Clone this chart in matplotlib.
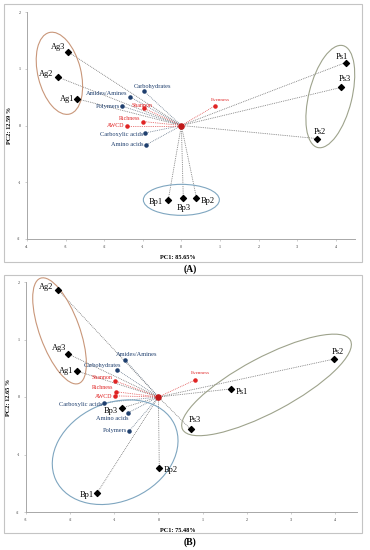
import matplotlib.pyplot as plt
from matplotlib.patches import Ellipse, Rectangle
from matplotlib.transforms import ScaledTranslation

plt.rcParams['font.family'] = ['Liberation Serif', 'DejaVu Serif']
plt.rcParams['axes.unicode_minus'] = False

# ---- panel A data ----
a_samples = ["Ag1", "Ag2", "Ag3", "Ps1", "Ps2", "Ps3", "Bp1", "Bp2", "Bp3"]
a_sx = [-2.70, -3.19, -2.94, 4.26, 3.51, 4.13, -0.34, 0.39, 0.05]
a_sy = [0.47, 0.85, 1.30, 1.11, -0.23, 0.67, -1.31, -1.27, -1.27]
a_vars = ["Carbohydrates", "Amides/Amines", "Polymers", "Carboxylic acids", "Amino acids",
          "Shannon", "Richness", "AWCD", "Evenness"]
a_vx = [-0.96, -1.32, -1.53, -0.93, -0.91, -0.96, -0.99, -1.40, 0.88]
a_vy = [0.60, 0.50, 0.34, -0.13, -0.34, 0.30, 0.07, 0.00, 0.35]

# ---- panel B data ----
b_samples = ["Ag1", "Ag2", "Ag3", "Ps1", "Ps2", "Ps3", "Bp1", "Bp2", "Bp3"]
b_sx = [-1.84, -2.27, -2.05, 1.64, 3.98, 0.73, -1.39, 0.02, -0.82]
b_sy = [0.45, 1.86, 0.75, 0.14, 0.66, -0.56, -1.67, -1.23, -0.19]
b_vars = ["Carbohydrates", "Amides/Amines", "Polymers", "Carboxylic acids", "Amino acids",
          "Shannon", "Richness", "AWCD", "Evenness"]
b_vx = [-0.93, -0.75, -0.66, -1.23, -0.70, -0.98, -0.95, -0.98, 0.84]
b_vy = [0.47, 0.64, -0.59, -0.10, -0.28, 0.28, 0.09, 0.02, 0.30]

red_vars = {"Shannon", "Richness", "AWCD", "Evenness"}

BLUE = "#1f3f6e"
RED = "#e02424"

# label offsets in pixels: (dx, dy, ha)
a_off = {
    "Ag1": (-3, 0, "right"), "Ag2": (-5, 3, "right"), "Ag3": (-3, 5, "right"),
    "Ps1": (-4, 6, "center"), "Ps2": (3, 7, "center"), "Ps3": (4, 8, "center"),
    "Bp1": (-5, -2, "right"), "Bp2": (4, -3, "left"), "Bp3": (0, -10, "center"),
    "Carbohydrates": (8, 5, "center"), "Amides/Amines": (-3, 4, "right"),
    "Polymers": (-2, 0, "right"), "Carboxylic acids": (-2, -2, "right"),
    "Amino acids": (-3, 0, "right"), "Shannon": (-2, 3, "center"),
    "Richness": (-3, 3, "right"), "AWCD": (-3, 0, "right"), "Evenness": (5, 6, "center"),
}
b_off = {
    "Ag1": (-4, 0, "right"), "Ag2": (-5, 3, "right"), "Ag3": (-2, 6, "right"),
    "Ps1": (5, -3, "left"), "Ps2": (4, 7, "center"), "Ps3": (-2, 9, "left"),
    "Bp1": (-3, -2, "right"), "Bp2": (4, -2, "left"), "Bp3": (-4, -3, "right"),
    "Carbohydrates": (-15, 4, "center"), "Amides/Amines": (11, 6, "center"),
    "Polymers": (-2, 0, "right"), "Carboxylic acids": (-2, -2, "right"),
    "Amino acids": (-15, -5, "center"), "Shannon": (-3, 3, "right"),
    "Richness": (-3, 4, "right"), "AWCD": (-3, -1, "right"), "Evenness": (5, 7, "center"),
}


def group_ellipse(ax, cx, cy, w, h, ang, color):
    # ellipse size given in inches so it is independent of axis scaling
    tr = ax.figure.dpi_scale_trans + ScaledTranslation(cx, cy, ax.transData)
    ax.add_patch(Ellipse((0, 0), w, h, angle=ang, transform=tr, fill=False,
                         ec=color, lw=0.8, clip_on=False))


def draw_panel(ax, samples, sx, sy, names, vx, vy, off, xlim, xlabel, ylabel):
    for x, y in zip(sx, sy):
        ax.plot([0, x], [0, y], ls=(0, (1, 1.2)), lw=0.6, color="#707070", zorder=1)
    for n, x, y in zip(names, vx, vy):
        c = "#e05050" if n in red_vars else "#6a7a8c"
        ax.plot([0, x], [0, y], ls=(0, (1, 1.2)), lw=0.6, color=c, zorder=1)
    ax.scatter(sx, sy, marker="D", s=9, color="black", zorder=3)
    for n, x, y in zip(names, vx, vy):
        red = n in red_vars
        ax.scatter([x], [y], marker="o", s=5, color=RED if red else BLUE, zorder=3)
    ax.scatter([0], [0], marker="o", s=14, color="#c01818", zorder=4)

    for n, x, y in zip(samples, sx, sy):
        dx, dy, ha = off[n]
        ax.annotate(n, (x, y), xytext=(dx, dy), textcoords="offset pixels",
                    ha=ha, va="center", fontsize=6, color="black")
    for n, x, y in zip(names, vx, vy):
        dx, dy, ha = off[n]
        red = n in red_vars
        fs = 3.6 if n == "Evenness" else (4.2 if red else 4.6)
        ax.annotate(n, (x, y), xytext=(dx, dy), textcoords="offset pixels",
                    ha=ha, va="center", fontsize=fs, color=RED if red else BLUE)

    ax.set_xlim(*xlim)
    ax.set_ylim(-2, 2)
    ax.set_xticks(range(int(xlim[0]), 5))
    ax.set_yticks([-2, -1, 0, 1, 2])
    for s in ["top", "right"]:
        ax.spines[s].set_visible(False)
    for s in ["left", "bottom"]:
        ax.spines[s].set_color("#a8a8a8")
        ax.spines[s].set_linewidth(0.7)
    ax.tick_params(labelsize=3, length=1.5, width=0.4, color="#a8a8a8", pad=3,
                   labelcolor="#333333")
    ax.set_xlabel(xlabel, fontsize=4.5, fontweight="bold")
    ax.set_ylabel(ylabel, fontsize=4.5, fontweight="bold")
    ax.xaxis.set_label_coords(0.46, -0.07)
    ax.yaxis.set_label_coords(-0.046, 0.5)


fig = plt.figure(figsize=(3.7, 5.5), dpi=100)
W, H = 370, 550

axA = fig.add_axes([27 / W, 1 - 239 / H, 328 / W, 227 / H])
draw_panel(axA, a_samples, a_sx, a_sy, a_vars, a_vx, a_vy, a_off, (-4, 4.5),
           "PC1: 85.65%", "PC2: 12.59 %")
group_ellipse(axA, -3.16, 0.92, 0.84, 0.43, 104, "#c9977a")
group_ellipse(axA, 3.86, 0.51, 1.05, 0.43, 76, "#9ea38c")
group_ellipse(axA, 0.0, -1.31, 0.76, 0.31, 0, "#7fa6c0")

axB = fig.add_axes([26 / W, 1 - 512 / H, 331 / W, 230 / H])
draw_panel(axB, b_samples, b_sx, b_sy, b_vars, b_vx, b_vy, b_off, (-3, 4.5),
           "PC1: 75.48%", "PC2: 12.65 %")
group_ellipse(axB, -2.24, 1.15, 1.12, 0.40, 110, "#c9977a")
group_ellipse(axB, 2.45, 0.21, 1.90, 0.55, 28, "#9ea38c")
group_ellipse(axB, -0.98, -0.96, 1.31, 0.98, 25, "#7fa6c0")

# panel frames
for top, bottom in [(4, 262), (275, 533)]:
    fig.add_artist(Rectangle((4 / W, 1 - bottom / H), 358 / W, (bottom - top) / H,
                             transform=fig.transFigure, fill=False, ec="#c4c4c4", lw=0.8))
fig.text(190 / W, 1 - 269 / H, "(A)", ha="center", va="center", fontsize=7, fontweight="bold")
fig.text(190 / W, 1 - 542 / H, "(B)", ha="center", va="center", fontsize=7, fontweight="bold")

fig.savefig("out.png", dpi=100)
